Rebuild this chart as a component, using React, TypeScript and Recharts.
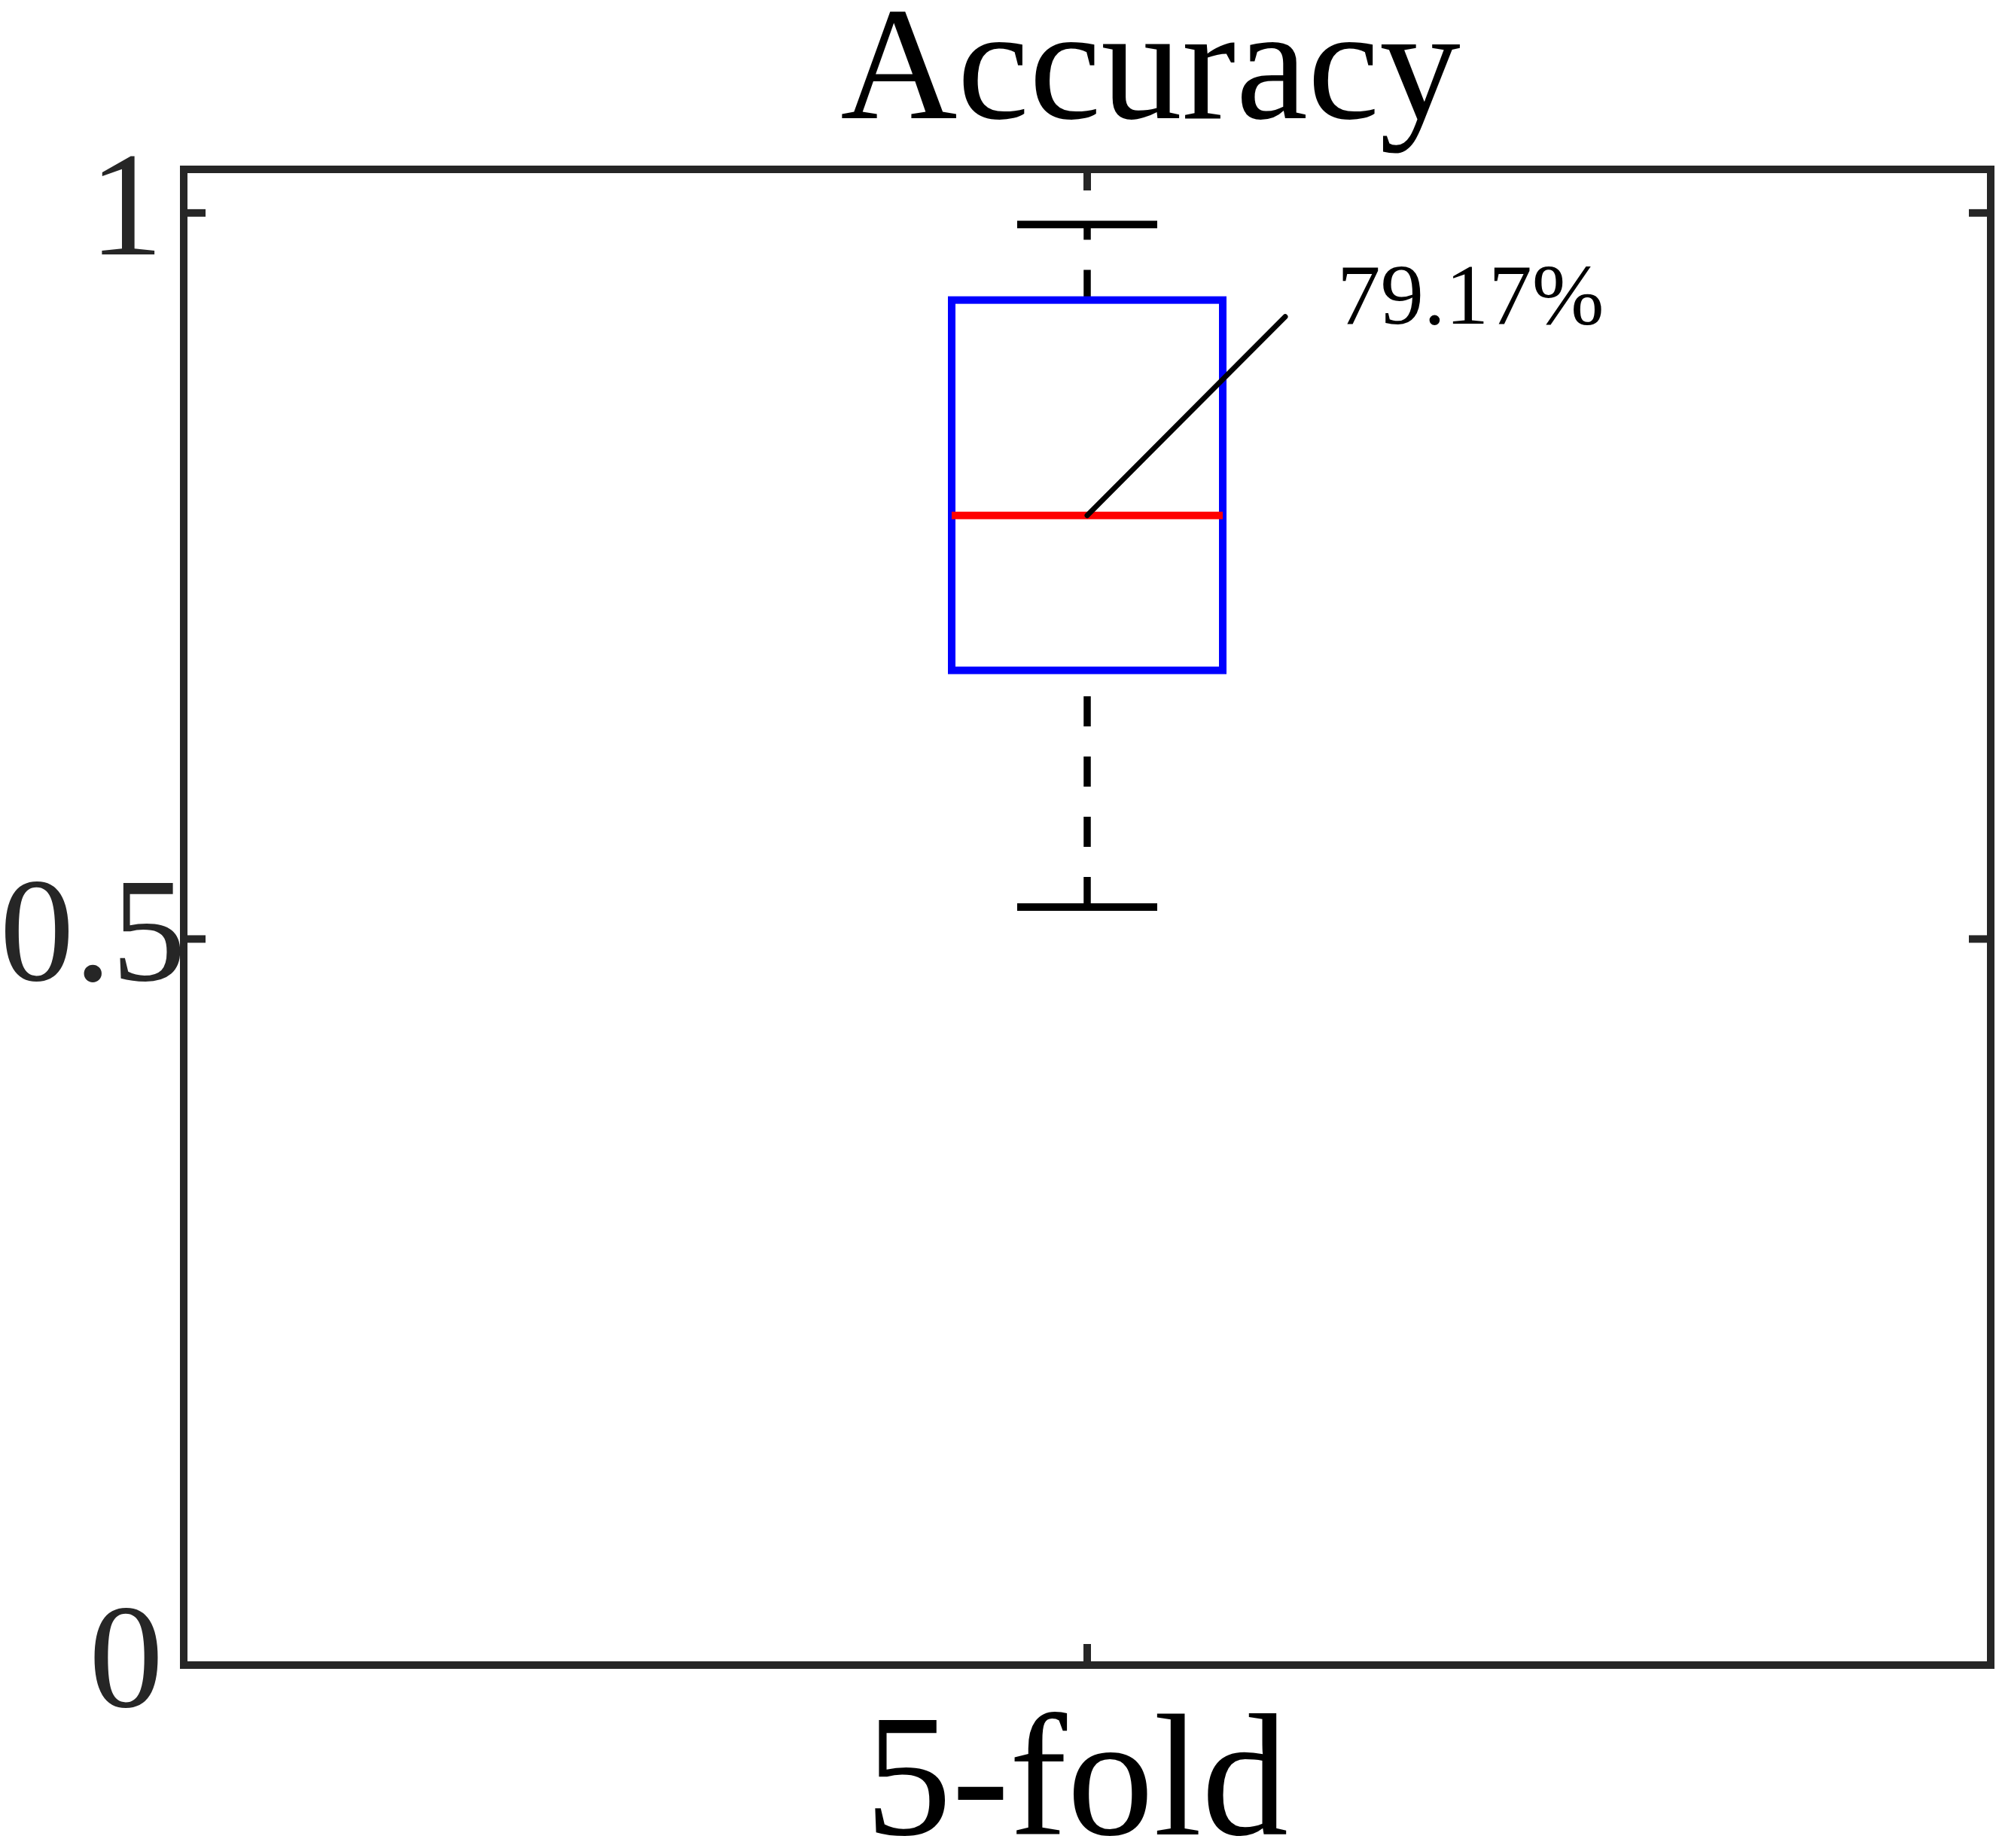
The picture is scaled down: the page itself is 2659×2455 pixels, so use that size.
import React from 'react';
import { ComposedChart, Bar, XAxis, YAxis } from 'recharts';

// box plot values
const categories = ['5-fold'];
const lowerWhisker = [0.522];
const lowerQuartile = [0.685];
const medians = [0.7917];
const upperQuartile = [0.94];
const upperWhisker = [0.992];

const yTicks = [0, 0.5, 1];
const yTickLabels = ['0', '0.5', '1'];
const yDomain = [0, 1.03];

const data = categories.map((name, i) => ({
  name,
  range: [lowerWhisker[i], upperWhisker[i]],
  lower: lowerWhisker[i],
  q1: lowerQuartile[i],
  median: medians[i],
  q3: upperQuartile[i],
  upper: upperWhisker[i],
}));

const W = 2659;
const H = 2455;
const FONT = "'Liberation Serif', 'Times New Roman', serif";
const AXIS = '#262626';
// the wide label sits closer to the axis in the original
const yLabelShift: Record<string, number> = { '0.5': 30 };

const BoxShape = (props: any) => {
  const { x, y, width, height, payload } = props;
  const top = Math.min(y, y + height);
  const bottom = Math.max(y, y + height);
  const { lower, q1, median, q3, upper } = payload;
  // linear map inside the bar, whose ends come from the y scale
  const py = (v: number) => bottom - ((v - lower) / (upper - lower)) * (bottom - top);
  const cx = x + width / 2;
  const capHalf = width / 4 + 3;
  const my = py(median);
  return (
    <g>
      <line x1={cx} x2={cx} y1={py(q3)} y2={py(upper)} stroke="#000" strokeWidth={9.5} strokeDasharray="40 40" />
      <line x1={cx} x2={cx} y1={py(lower)} y2={py(q1)} stroke="#000" strokeWidth={9.5} strokeDasharray="40 40" />
      <line x1={cx - capHalf} x2={cx + capHalf} y1={py(upper)} y2={py(upper)} stroke="#000" strokeWidth={10} />
      <line x1={cx - capHalf} x2={cx + capHalf} y1={py(lower)} y2={py(lower)} stroke="#000" strokeWidth={10} />
      <rect x={x} y={py(q3)} width={width} height={py(q1) - py(q3)} fill="none" stroke="#0000ff" strokeWidth={10} />
      <line x1={x} x2={x + width} y1={my} y2={my} stroke="#ff0000" strokeWidth={10} />
      <line x1={cx} y1={my} x2={cx + 263} y2={my - 264} stroke="#000" strokeWidth={7} strokeLinecap="round" />
      <text x={cx + 332} y={my - 255} fontSize={115} fontFamily={FONT} fill="#000">
        {(median * 100).toFixed(2)}%
      </text>
    </g>
  );
};

const LeftTick = (props: any) => {
  const { x, y, payload } = props;
  const label = yTickLabels[yTicks.indexOf(payload.value)];
  const shift = yLabelShift[label] || 0;
  return (
    <g>
      <line x1={x} x2={x + 29} y1={y} y2={y} stroke={AXIS} strokeWidth={10} />
      <text x={x - 27 + shift} y={y + 55} textAnchor="end" fontSize={198} fontFamily={FONT} fill={AXIS}>
        {label}
      </text>
    </g>
  );
};

const RightTick = (props: any) => {
  const { x, y } = props;
  return <line x1={x} x2={x - 29} y1={y} y2={y} stroke={AXIS} strokeWidth={10} />;
};

const TopTick = (props: any) => {
  const { x, y } = props;
  return <line x1={x} x2={x} y1={y} y2={y + 28} stroke={AXIS} strokeWidth={10} />;
};

const BottomTick = (props: any) => {
  const { x, y, payload } = props;
  return (
    <g>
      <line x1={x} x2={x} y1={y} y2={y - 28} stroke={AXIS} strokeWidth={10} />
      <text x={x - 14} y={y + 225} textAnchor="middle" fontSize={230} fontFamily={FONT} fill="#000">
        {payload.value}
      </text>
    </g>
  );
};

const axisLine = { stroke: AXIS, strokeWidth: 10, strokeLinecap: 'square' as const };

export default function App() {
  return (
    <div style={{ position: 'absolute', left: 0, top: 0, width: W, height: H, background: '#fff' }}>
      <ComposedChart width={W} height={H} data={data} margin={{ top: 0, right: 0, bottom: 0, left: 0 }}>
        <XAxis
          dataKey="name"
          xAxisId="bottom"
          orientation="bottom"
          height={243}
          axisLine={axisLine}
          tickLine={false}
          tickSize={0}
          tickMargin={0}
          tick={<BottomTick />}
          interval={0}
        />
        <XAxis
          dataKey="name"
          xAxisId="top"
          orientation="top"
          height={225}
          axisLine={axisLine}
          tickLine={false}
          tickSize={0}
          tickMargin={0}
          tick={<TopTick />}
          interval={0}
        />
        <YAxis
          yAxisId="left"
          orientation="left"
          width={244}
          domain={yDomain}
          ticks={yTicks}
          type="number"
          allowDataOverflow
          axisLine={axisLine}
          tickLine={false}
          tickSize={0}
          tickMargin={0}
          tick={<LeftTick />}
          interval={0}
        />
        <YAxis
          yAxisId="right"
          orientation="right"
          width={15}
          domain={yDomain}
          ticks={yTicks}
          type="number"
          allowDataOverflow
          axisLine={axisLine}
          tickLine={false}
          tickSize={0}
          tickMargin={0}
          tick={<RightTick />}
          interval={0}
        />
        <Bar
          dataKey="range"
          xAxisId="bottom"
          yAxisId="left"
          barSize={360}
          shape={<BoxShape />}
          isAnimationActive={false}
        />
      </ComposedChart>
      <svg
        width={W}
        height={230}
        style={{ position: 'absolute', left: 0, top: 0, pointerEvents: 'none' }}
      >
        <text x={1528} y={157} textAnchor="middle" fontSize={215} fontFamily={FONT} fill="#000">
          Accuracy
        </text>
      </svg>
    </div>
  );
}
